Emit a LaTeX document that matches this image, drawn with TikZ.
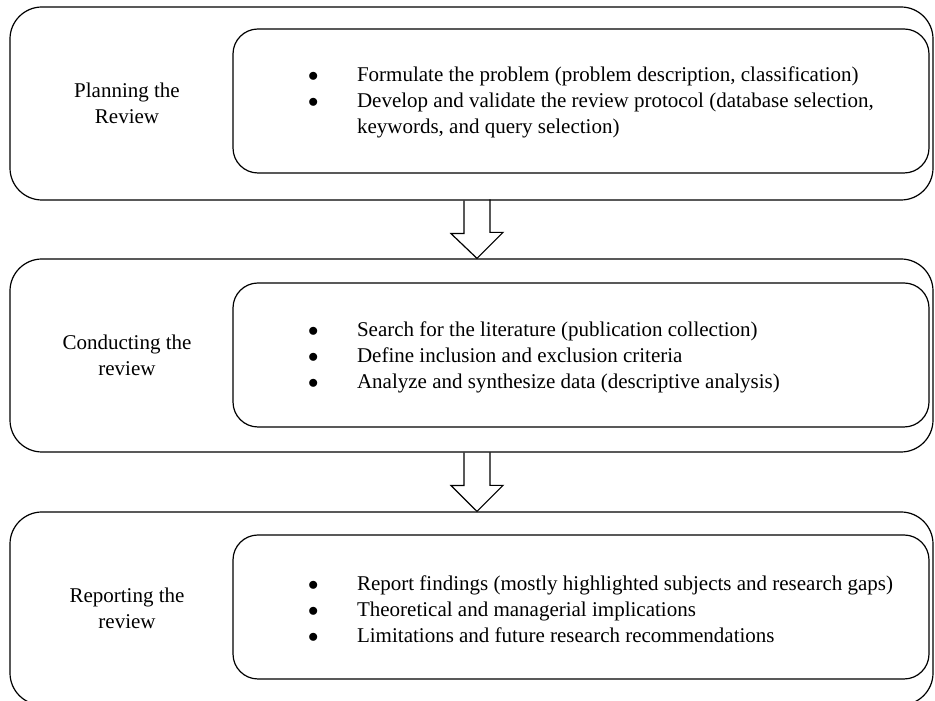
\documentclass[tikz,border=0pt]{standalone}
\usepackage{fontspec}
\setmainfont{Liberation Serif}
\usetikzlibrary{positioning}
\tikzset{
  stagebox/.style={draw, line width=1.2pt, rounded corners=32pt, minimum width=923pt, minimum height=193pt, inner sep=0pt},
  stepsbox/.style={draw, line width=1.2pt, rounded corners=25pt, minimum width=696pt, minimum height=144pt, inner sep=0pt},
  stagelabel/.style={align=center, inner sep=0pt, font=\fontsize{21}{25.5}\selectfont},
  steplist/.style={anchor=west, inner sep=0pt, font=\fontsize{21}{26}\selectfont},
  blockarrow/.style={line width=1.2pt, line join=miter}
}
\newcommand{\bul}{$\bullet$}
\begin{document}
\begin{tikzpicture}[x=1pt,y=1pt]
\useasboundingbox (0,0) rectangle (935,701);

% Drawing the three stages
\node[stagebox] (plan) at (471.5,597.5) {};
\node[stagebox] (cond) at (471.5,345.5) {};
\node[stagebox] (rep) at (471.5,92.5) {};

% Drawing the boxes with the steps
\node[stepsbox] (planin) at (581,600) {};
\node[stepsbox] (condin) at (581,346) {};
\node[stepsbox] (repin) at (581,94) {};

% Stage names
\node[stagelabel] (planlbl) at (127,597.5) {Planning the\\Review};
\node[stagelabel] (condlbl) at (127,345.5) {Conducting the\\review};
\node[stagelabel] (replbl) at (127,92.5) {Reporting the\\review};

% Steps
\node[steplist] (plantxt) at (308,599) {%
\begin{tabular}{@{}l@{\hspace{38.5pt}}l@{}}
\bul & Formulate the problem (problem description, classification)\\
\bul & Develop and validate the review protocol (database selection,\\
 & keywords, and query selection)
\end{tabular}};
\node[steplist] (condtxt) at (308,344) {%
\begin{tabular}{@{}l@{\hspace{38.5pt}}l@{}}
\bul & Search for the literature (publication collection)\\
\bul & Define inclusion and exclusion criteria\\
\bul & Analyze and synthesize data (descriptive analysis)
\end{tabular}};
\node[steplist] (reptxt) at (308,89.5) {%
\begin{tabular}{@{}l@{\hspace{38.5pt}}l@{}}
\bul & Report findings (mostly highlighted subjects and research gaps)\\
\bul & Theoretical and managerial implications\\
\bul & Limitations and future research recommendations
\end{tabular}};

% Block arrows between the stages
\draw[blockarrow] ([xshift=-7.5pt]plan.south) -- ++(0,-33) -- ++(-13,0) -- ([xshift=5.5pt]cond.north) -- ++(26,26) -- ++(-13,0) -- ++(0,33);
\draw[blockarrow] ([xshift=-7.5pt]cond.south) -- ++(0,-33) -- ++(-13,0) -- ([xshift=5.5pt]rep.north) -- ++(26,26) -- ++(-13,0) -- ++(0,33);
\end{tikzpicture}
\end{document}
